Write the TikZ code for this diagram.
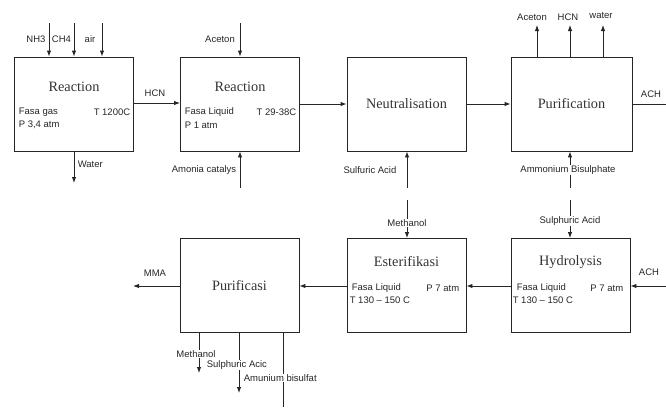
\documentclass[tikz,border=0pt]{standalone}
\usepackage{fontspec}
\setmainfont{Liberation Serif}
\setsansfont{Liberation Sans}
\usetikzlibrary{arrows.meta}
\begin{document}
\begin{tikzpicture}[x=1pt,y=-1pt,
  box/.style={draw=black!85,line width=0.9pt,minimum width=119pt,minimum height=94pt,inner sep=0pt},
  title/.style={font=\fontsize{14.3}{15}\selectfont,text=black!80,inner sep=0pt},
  lbl/.style={font=\sffamily\fontsize{9.5}{10.5}\selectfont,text=black!85,inner sep=0.6pt},
  wlbl/.style={lbl,fill=white},
  flow/.style={draw=black!85,line width=0.9pt,-{Latex[length=6pt,width=4.5pt]}},
  plain/.style={draw=black!85,line width=0.9pt}]
\useasboundingbox (0,0) rectangle (666,407);
% boxes
\node[box] (r1) at (74,104) {};
\node[box] (r2) at (240,104) {};
\node[box] (neu) at (406.5,104) {};
\node[box,minimum width=121pt] (pur) at (571.5,104) {};
\node[box] (pc) at (239.5,285.5) {};
\node[box] (est) at (406.5,285.5) {};
\node[box] (hyd) at (570.5,285.5) {};
% titles
\node[title] (t1) at (74,87) {Reaction};
\node[title] (t2) at (240,87) {Reaction};
\node[title] (t3) at (406.5,104) {Neutralisation};
\node[title] (t4) at (571.5,104) {Purification};
\node[title] (t5) at (239.5,286) {Purificasi};
\node[title] (t6) at (406.5,262) {Esterifikasi};
\node[title] (t7) at (570.5,262) {Hydrolysis};
% inner texts
\node[lbl,anchor=west] (a1) at (18,112) {Fasa gas};
\node[lbl,anchor=west] (a2) at (18,125) {P 3,4 atm};
\node[lbl,anchor=east] (a3) at (131,112) {T 1200C};
\node[lbl,anchor=west] (b1) at (184,112) {Fasa Liquid};
\node[lbl,anchor=west] (b2) at (184,125) {P 1 atm};
\node[lbl,anchor=east] (b3) at (297,112) {T 29-38C};
\node[lbl,anchor=west] (e1) at (351,288) {Fasa Liquid};
\node[lbl,anchor=west] (e2) at (349,300) {T 130 – 150 C};
\node[lbl,anchor=east] (e3) at (460,288) {P 7 atm};
\node[lbl,anchor=west] (h1) at (516,288) {Fasa Liquid};
\node[lbl,anchor=west] (h2) at (512,300) {T 130 – 150 C};
\node[lbl,anchor=east] (h3) at (624,288) {P 7 atm};
% free ends
\coordinate (inNH3) at (49,23);
\coordinate (inCH4) at (74,23);
\coordinate (inAir) at (102,23);
\coordinate (outW) at (74,183);
\coordinate (inAc) at (240,23);
\coordinate (inAm) at (240,188);
\coordinate (inSA) at (407,188);
\coordinate (outAc) at (537,25);
\coordinate (outHCN) at (570,25);
\coordinate (outWa) at (603,25);
\coordinate (inAB) at (570,188);
\coordinate (outACH) at (666,104);
\coordinate (inSA2) at (570,200);
\coordinate (inMe) at (407,200);
\coordinate (inACH) at (666,286);
\coordinate (outMMA) at (133,286);
\coordinate (outMe) at (199,373);
\coordinate (outSA) at (239,393);
\coordinate (outAB) at (283,407);
% connectors
\draw[flow] (inNH3) -- (inNH3 |- r1.north);
\draw[flow] (inCH4) -- (inCH4 |- r1.north);
\draw[flow] (inAir) -- (inAir |- r1.north);
\draw[flow] (outW |- r1.south) -- (outW);
\draw[flow] (r1.east |- 0,103) -- (r2.west |- 0,103);
\draw[flow] (inAc) -- (inAc |- r2.north);
\draw[flow] (inAm) -- (inAm |- r2.south);
\draw[flow] (r2.east |- 0,104) -- (neu.west |- 0,104);
\draw[flow] (inSA) -- (inSA |- neu.south);
\draw[flow] (neu.east |- 0,104) -- (pur.west |- 0,104);
\draw[flow] (outAc |- pur.north) -- (outAc);
\draw[flow] (outHCN |- pur.north) -- (outHCN);
\draw[flow] (outWa |- pur.north) -- (outWa);
\draw[flow] (inAB) -- (inAB |- pur.south);
\draw[plain] (pur.east |- outACH) -- (outACH);
\draw[flow] (inSA2) -- (inSA2 |- hyd.north);
\draw[flow] (inMe) -- (inMe |- est.north);
\draw[flow] (inACH) -- (hyd.east |- inACH);
\draw[flow] (hyd.west |- 0,286) -- (est.east |- 0,286);
\draw[flow] (est.west |- 0,286) -- (pc.east |- 0,286);
\draw[flow] (pc.west |- outMMA) -- (outMMA);
\draw[flow] (outMe |- pc.south) -- (outMe);
\draw[flow] (outSA |- pc.south) -- (outSA);
\draw[plain] (outAB |- pc.south) -- (outAB);
% labels
\node[lbl] (lNH3) at (36,39) {NH3};
\node[lbl] (lCH4) at (61.5,39) {CH4};
\node[lbl] (lAir) at (90,39) {air};
\node[lbl,anchor=west] (lW) at (77,164) {Water};
\node[lbl] (lHCN) at (155,93) {HCN};
\node[lbl] (lAc) at (220,39) {Aceton};
\node[lbl] (lAm) at (204,170) {Amonia catalys};
\node[lbl] (lSA) at (370,170) {Sulfuric Acid};
\node[lbl] (lAc2) at (532,17) {Aceton};
\node[lbl] (lHCN2) at (568,17) {HCN};
\node[lbl] (lWa) at (601,15) {water};
\node[wlbl] (lAB) at (568,170) {Ammonium Bisulphate};
\node[lbl] (lACH) at (651,94) {ACH};
\node[wlbl] (lSA2) at (570,221) {Sulphuric Acid};
\node[wlbl] (lMe) at (407,223) {Methanol};
\node[lbl] (lACH2) at (649,272) {ACH};
\node[lbl] (lMMA) at (155,273) {MMA};
\node[wlbl] (lMe2) at (196,354) {Methanol};
\node[wlbl,anchor=west] (lSA3) at (206,365) {Sulphuric Acic};
\node[wlbl,anchor=west] (lAB2) at (243,378) {Amunium bisulfat};
\end{tikzpicture}
\end{document}
